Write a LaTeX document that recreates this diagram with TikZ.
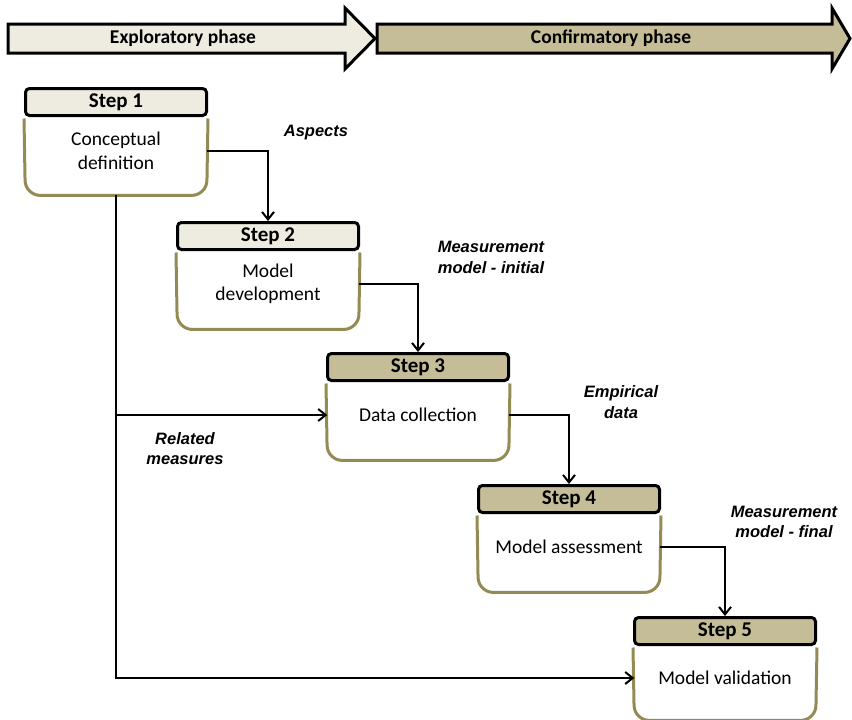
\documentclass[tikz,border=0pt]{standalone}
\usepackage{fontspec}
\setmainfont{Carlito}
\newfontfamily\labfont{Liberation Sans}
\usetikzlibrary{arrows.meta,calc}
\definecolor{lightfill}{HTML}{EEECE1}
\definecolor{darkfill}{HTML}{C4BD97}
\definecolor{olivebox}{HTML}{948A54}
\begin{document}
\begin{tikzpicture}[x=1pt,y=-1pt,
  phasearrow/.style={draw=black, line width=3pt, line join=miter},
  phasetext/.style={inner sep=0pt, font=\fontsize{19.5}{23}\selectfont\bfseries},
  hdr/.style={draw=black, line width=3pt, rounded corners=4pt, minimum width=181pt, minimum height=27pt, inner sep=0pt, anchor=north west, font=\fontsize{21}{24}\selectfont\bfseries},
  stepbody/.style={minimum width=181pt, minimum height=78pt, inner sep=0pt, anchor=north},
  edgeline/.style={draw=olivebox, line width=3pt, rounded corners=15pt},
  btext/.style={align=center, inner sep=0pt, font=\fontsize{19.5}{23.5}\selectfont},
  conn/.style={line width=2pt, -{Straight Barb[length=7.5pt,width=12pt]}},
  lbl/.style={align=center, inner sep=0pt, font=\labfont\bfseries\itshape\fontsize{16.5}{20.5}\selectfont}]
\useasboundingbox (0,0) rectangle (852,720);

% phase arrows
\draw[phasearrow, fill=lightfill] (8,24) -- (345,24) -- (345,8) -- (375,38.5) -- (345,69) -- (345,53) -- (8,53) -- cycle;
\draw[phasearrow, fill=darkfill] (377,24) -- (832,24) -- (832,8) -- (850,38.5) -- (832,69) -- (832,53) -- (377,53) -- cycle;
\node[phasetext] (expl) at (183,38.5) {Exploratory phase};
\node[phasetext] (conf) at (611,38.5) {Confirmatory phase};

% steps
\node[hdr, fill=lightfill] (s1) at (24,87) {Step 1};
\node[hdr, fill=lightfill] (s2) at (176,221) {Step 2};
\node[hdr, fill=darkfill] (s3) at (326,352) {Step 3};
\node[hdr, fill=darkfill] (s4) at (477,484) {Step 4};
\node[hdr, fill=darkfill] (s5) at (633,616) {Step 5};

\node[stepbody] (s1b) at (s1.south) {};
\node[stepbody] (s2b) at (s2.south) {};
\node[stepbody] (s3b) at (s3.south) {};
\node[stepbody] (s4b) at (s4.south) {};
\node[stepbody, minimum height=74pt] (s5b) at (s5.south) {};

\foreach \s in {s1,s2,s3,s4,s5}{
  \draw[edgeline] ($(\s.south west)+(0,1.5)$) -- (\s b.south west) -- (\s b.south east) -- ($(\s.south east)+(0,1.5)$);
}

\node[btext] (s1t) at ($(s1.south)+(0,34)$) {Conceptual\\definition};
\node[btext] (s2t) at ($(s2.south)+(0,33)$) {Model\\development};
\node[btext] (s3t) at ($(s3.south)+(0,33)$) {Data collection};
\node[btext] (s4t) at ($(s4.south)+(0,33)$) {Model assessment};
\node[btext] (s5t) at ($(s5.south)+(0,32)$) {Model validation};

% connectors
\draw[conn] (s1b.east |- s1t) -| (s2.north);
\draw[conn] (s2b.east |- s2t) -| (s3.north);
\draw[conn] (s3b.east |- s3t) -| (s4.north);
\draw[conn] (s4b.east |- s4t) -| (s5.north);
\draw[conn] (s1b.south) |- (s5b.west |- s5t);
\coordinate (branch) at (s1b.south |- s3t);
\draw[conn] (branch) -- (s3b.west |- s3t);

% labels
\node[lbl] (la) at (316,133) {Aspects};
\node[lbl] (lb) at (491,257.5) {Measurement\\model - initial};
\node[lbl] (lc) at (621,402) {Empirical\\data};
\node[lbl] (ld) at (784,522) {Measurement\\model - final};
\node[lbl] (le) at (185,448.5) {Related\\measures};
\end{tikzpicture}
\end{document}
